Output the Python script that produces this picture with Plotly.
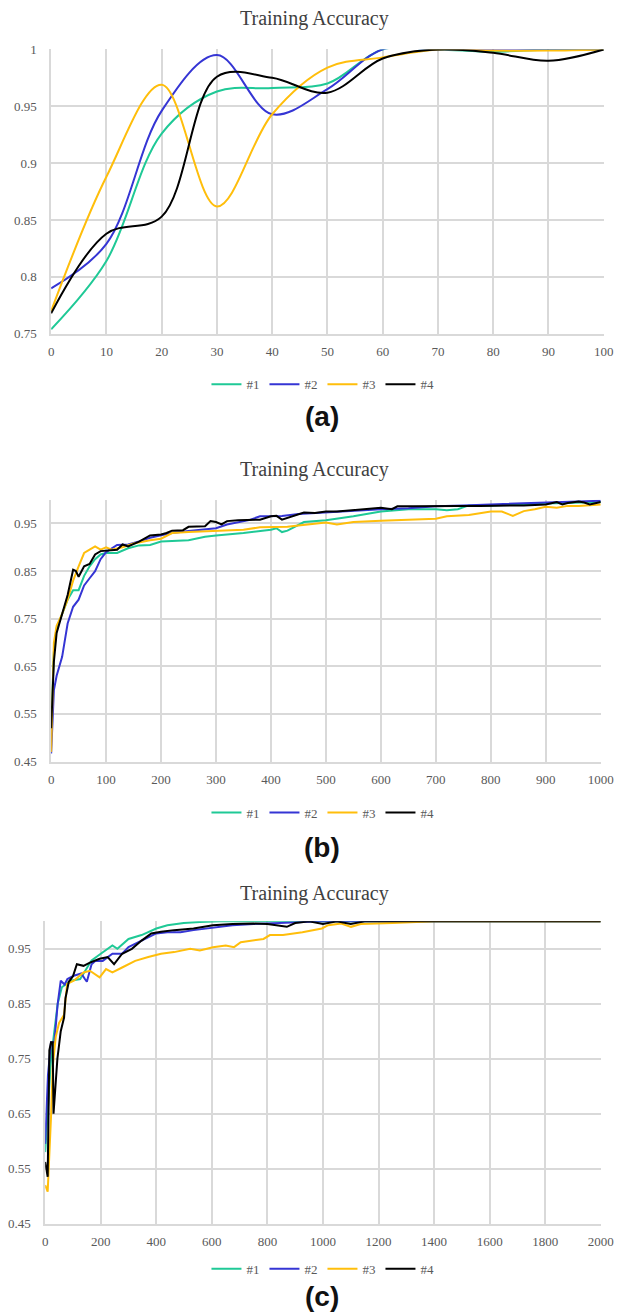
import plotly.graph_objects as go

# Figure size chosen so that, with the page's default 8px body margin, the page
# is 627 px wide.  Positions below are given in target-image pixels and mapped
# to paper coordinates by fx / fy (calibrated against earlier renders).
W, H, M = 611, 1315, 8

names = ["#1", "#2", "#3", "#4"]
colors = ["#1fc996", "#3535d4", "#ffbe0b", "#000000"]

# ---------------- Panel (a) ----------------
a_x = [0, 10, 20, 30, 40, 50, 60, 70, 80, 90, 100]
a_1 = [0.754, 0.814, 0.926, 0.963, 0.966, 0.970, 1.000, 1.000, 0.998, 1.000, 1.000]
a_2 = [0.790, 0.829, 0.946, 0.995, 0.943, 0.965, 1.000, 1.000, 1.000, 1.000, 1.000]
a_3 = [0.770, 0.888, 0.969, 0.862, 0.943, 0.984, 0.993, 1.000, 0.999, 0.999, 1.000]
a_4 = [0.768, 0.838, 0.853, 0.976, 0.975, 0.962, 0.992, 1.000, 0.997, 0.990, 1.000]

# ---------------- Panel (b) ----------------
b1_x = [0, 5, 10, 20, 30, 40, 50, 60, 70, 80, 90, 100, 120, 140, 160, 180, 200, 250, 280, 300,
        350, 400, 410, 420, 430, 460, 480, 500, 550, 600, 650, 700, 720, 740, 760, 800, 900, 1000]
b1_y = [0.52, 0.68, 0.73, 0.76, 0.79, 0.81, 0.81, 0.84, 0.86, 0.875, 0.885, 0.888, 0.888, 0.898,
        0.904, 0.905, 0.912, 0.915, 0.922, 0.925, 0.93, 0.937, 0.94, 0.932, 0.935, 0.953, 0.955,
        0.957, 0.965, 0.975, 0.98, 0.98, 0.978, 0.98, 0.988, 0.988, 0.992, 0.995]
b2_x = [0, 5, 10, 20, 30, 40, 50, 60, 70, 80, 90, 100, 120, 140, 160, 180, 200, 220, 250, 280,
        300, 320, 340, 360, 380, 400, 420, 450, 480, 500, 550, 600, 650, 700, 750, 800, 850, 900,
        950, 1000]
b2_y = [0.467, 0.60, 0.63, 0.67, 0.74, 0.775, 0.79, 0.82, 0.835, 0.85, 0.875, 0.89, 0.905, 0.906,
        0.912, 0.92, 0.925, 0.93, 0.934, 0.937, 0.94, 0.948, 0.952, 0.957, 0.965, 0.965, 0.966,
        0.97, 0.972, 0.973, 0.977, 0.98, 0.982, 0.986, 0.988, 0.99, 0.992, 0.995, 0.996, 0.998]
b3_x = [0, 5, 10, 20, 30, 40, 50, 60, 70, 80, 90, 100, 110, 130, 150, 180, 200, 220, 250, 300,
        350, 380, 400, 430, 450, 500, 520, 550, 600, 650, 680, 700, 720, 760, 800, 820, 840, 860,
        880, 900, 920, 940, 960, 1000]
b3_y = [0.47, 0.70, 0.735, 0.76, 0.79, 0.83, 0.86, 0.888, 0.895, 0.902, 0.895, 0.90, 0.895, 0.90,
        0.908, 0.915, 0.918, 0.93, 0.932, 0.935, 0.937, 0.942, 0.942, 0.943, 0.946, 0.952, 0.948,
        0.953, 0.956, 0.958, 0.96, 0.96, 0.965, 0.968, 0.975, 0.975, 0.966, 0.976, 0.98, 0.985,
        0.983, 0.987, 0.987, 0.99]
b4_x = [0, 5, 10, 20, 30, 40, 45, 50, 60, 70, 80, 90, 100, 110, 120, 130, 140, 160, 180, 200,
        210, 220, 240, 250, 270, 280, 290, 300, 310, 320, 340, 360, 380, 400, 410, 420, 440, 460,
        480, 500, 520, 540, 560, 580, 600, 620, 630, 660, 700, 740, 780, 820, 860, 900, 910, 920,
        930, 940, 960, 970, 980, 990, 1000]
b4_y = [0.52, 0.66, 0.72, 0.76, 0.80, 0.853, 0.85, 0.838, 0.86, 0.865, 0.885, 0.892, 0.893,
        0.893, 0.895, 0.906, 0.902, 0.912, 0.925, 0.927, 0.93, 0.935, 0.936, 0.943, 0.944, 0.944,
        0.955, 0.953, 0.948, 0.955, 0.957, 0.958, 0.958, 0.965, 0.966, 0.958, 0.966, 0.973, 0.972,
        0.975, 0.975, 0.977, 0.978, 0.98, 0.983, 0.98, 0.986, 0.986, 0.987, 0.987, 0.987, 0.987,
        0.988, 0.99, 0.993, 0.995, 0.99, 0.993, 0.996, 0.994, 0.99, 0.992, 0.995]

# ---------------- Panel (c) ----------------
c1_x = [0, 10, 21, 33, 45, 60, 91, 126, 149, 167, 200, 242, 260, 300, 347, 400, 440, 499, 557, 627, 2000]
c1_y = [0.58, 0.66, 0.75, 0.80, 0.85, 0.88, 0.892, 0.895, 0.913, 0.929, 0.941, 0.956, 0.95, 0.968,
        0.975, 0.987, 0.993, 0.997, 0.999, 1.0, 1.0]
c2_x = [0, 10, 21, 33, 45, 56, 70, 80, 103, 130, 143, 150, 167, 180, 207, 242, 277, 300, 347, 400,
        440, 487, 534, 580, 627, 674, 750, 850, 950, 1000, 2000]
c2_y = [0.595, 0.72, 0.78, 0.78, 0.85, 0.892, 0.885, 0.895, 0.901, 0.905, 0.895, 0.89, 0.922,
        0.928, 0.928, 0.941, 0.941, 0.953, 0.965, 0.978, 0.98, 0.98, 0.984, 0.987, 0.99, 0.993,
        0.995, 0.997, 0.999, 1.0, 1.0]
c3_x = [0, 9, 21, 27, 38, 50, 68, 79, 103, 138, 161, 196, 219, 242, 277, 324, 371, 417, 464, 522,
        557, 604, 650, 680, 704, 786, 809, 856, 926, 996, 1019, 1066, 1101, 1136, 1250, 1400, 2000]
c3_y = [0.52, 0.508, 0.644, 0.735, 0.79, 0.815, 0.83, 0.886, 0.892, 0.907, 0.91, 0.898, 0.913,
        0.907, 0.916, 0.928, 0.935, 0.941, 0.944, 0.95, 0.947, 0.953, 0.956, 0.953, 0.962, 0.968,
        0.975, 0.975, 0.98, 0.987, 0.993, 0.996, 0.99, 0.995, 0.997, 1.0, 1.0]
c4_x = [0, 9, 15, 21, 27, 30, 44, 56, 68, 73, 85, 100, 114, 138, 161, 196, 225, 248, 277, 312, 347,
        382, 417, 464, 534, 604, 674, 750, 800, 870, 900, 950, 1000, 1050, 1100, 1150, 2000]
c4_y = [0.562, 0.535, 0.765, 0.78, 0.78, 0.65, 0.75, 0.80, 0.825, 0.86, 0.89, 0.90, 0.922, 0.919,
        0.925, 0.932, 0.935, 0.922, 0.941, 0.95, 0.965, 0.978, 0.981, 0.984, 0.987, 0.993, 0.995,
        0.996, 0.995, 0.99, 0.997, 1.0, 0.995, 1.0, 0.995, 1.0, 1.0]

a_ticks_x = [0, 10, 20, 30, 40, 50, 60, 70, 80, 90, 100]
a_ticks_y = [0.75, 0.8, 0.85, 0.9, 0.95, 1.0]
a_ticktext_y = ["0.75", "0.8", "0.85", "0.9", "0.95", "1"]
b_ticks_x = [0, 100, 200, 300, 400, 500, 600, 700, 800, 900, 1000]
c_ticks_x = [0, 200, 400, 600, 800, 1000, 1200, 1400, 1600, 1800, 2000]
bc_ticks_y = [0.45, 0.55, 0.65, 0.75, 0.85, 0.95]
bc_ticktext_y = ["0.45", "0.55", "0.65", "0.75", "0.85", "0.95"]


def fx(t):
    t = (t - 4.36) / 0.9717
    page = t - 1.5
    return min(1.0, max(0.0, (page - M) / W))


def fy(t):
    page = (t - 7.0) / 0.988
    return min(1.0, max(0.0, 1 - (page - M) / H))


fig = go.Figure()

panels = [
    dict(xs=[a_x] * 4, ys=[a_1, a_2, a_3, a_4], xa="x", ya="y", leg="legend", shape="spline"),
    dict(xs=[b1_x, b2_x, b3_x, b4_x], ys=[b1_y, b2_y, b3_y, b4_y], xa="x2", ya="y2", leg="legend2", shape="linear"),
    dict(xs=[c1_x, c2_x, c3_x, c4_x], ys=[c1_y, c2_y, c3_y, c4_y], xa="x3", ya="y3", leg="legend3", shape="linear"),
]
for p in panels:
    for i in range(4):
        fig.add_trace(go.Scatter(
            x=p["xs"][i], y=p["ys"][i], mode="lines", name=names[i],
            line=dict(color=colors[i], width=2, shape=p["shape"]),
            xaxis=p["xa"], yaxis=p["ya"], legend=p["leg"],
        ))

grid = "#d9d9d9"
serif = "Liberation Serif, DejaVu Serif, serif"
tickfont = dict(family=serif, size=13, color="#595959")


def xax(domain, rng, ticks, anchor):
    return dict(domain=domain, range=rng, tickvals=ticks, showgrid=True, gridcolor=grid, gridwidth=1.5,
                zeroline=False, showline=True, linecolor=grid, linewidth=1.5, tickfont=tickfont,
                ticks="outside", ticklen=5, tickcolor="rgba(0,0,0,0)", anchor=anchor, fixedrange=True,
                ticklabeloverflow="allow")


def yax(domain, rng, ticks, text, anchor):
    return dict(domain=domain, range=rng, tickvals=ticks, ticktext=text, showgrid=True, gridcolor=grid,
                gridwidth=1.5, zeroline=False, showline=True, linecolor=grid, linewidth=1.5,
                tickfont=tickfont, ticks="outside", ticklen=10, tickcolor="rgba(0,0,0,0)",
                anchor=anchor, fixedrange=True, ticklabeloverflow="allow")


legfont = dict(family=serif, size=13, color="#595959")


def leg(ypx):
    return dict(orientation="h", x=fx(322), xanchor="center", y=fy(ypx), yanchor="middle",
                font=legfont, bgcolor="rgba(0,0,0,0)", itemwidth=30, tracegroupgap=0)


fig.update_layout(
    width=W, height=H, margin=dict(l=0, r=0, t=0, b=0),
    paper_bgcolor="white", plot_bgcolor="white",
    xaxis=xax([fx(48), fx(605)], [0, 100], a_ticks_x, "y"),
    yaxis=yax([fy(333.5), fy(49.3)], [0.75, 1.0], a_ticks_y, a_ticktext_y, "x"),
    xaxis2=xax([fx(48), fx(602)], [0, 1000], b_ticks_x, "y2"),
    yaxis2=yax([fy(761), fy(499.3)], [0.45, 1.0], bc_ticks_y, bc_ticktext_y, "x2"),
    xaxis3=xax([fx(42), fx(602)], [0, 2000], c_ticks_x, "y3"),
    yaxis3=yax([fy(1222.7), fy(920.7)], [0.45, 1.0], bc_ticks_y, bc_ticktext_y, "x3"),
    legend=leg(384), legend2=leg(812), legend3=leg(1268),
    showlegend=True,
)

title_font = dict(family=serif, size=20, color="#404040")
label_font = dict(family="Liberation Sans, Arial, sans-serif", size=28, color="#111111")
for ypx in [18, 469, 893]:
    fig.add_annotation(text="Training Accuracy", x=fx(313), y=fy(ypx), xref="paper", yref="paper",
                       xanchor="center", yanchor="middle", showarrow=False, font=title_font)
for txt, ypx in [("<b>(a)</b>", 416), ("<b>(b)</b>", 847), ("<b>(c)</b>", 1296)]:
    fig.add_annotation(text=txt, x=fx(321), y=fy(ypx), xref="paper", yref="paper",
                       xanchor="center", yanchor="middle", showarrow=False, font=label_font)

fig.write_html("out.html", config={"displayModeBar": False})
